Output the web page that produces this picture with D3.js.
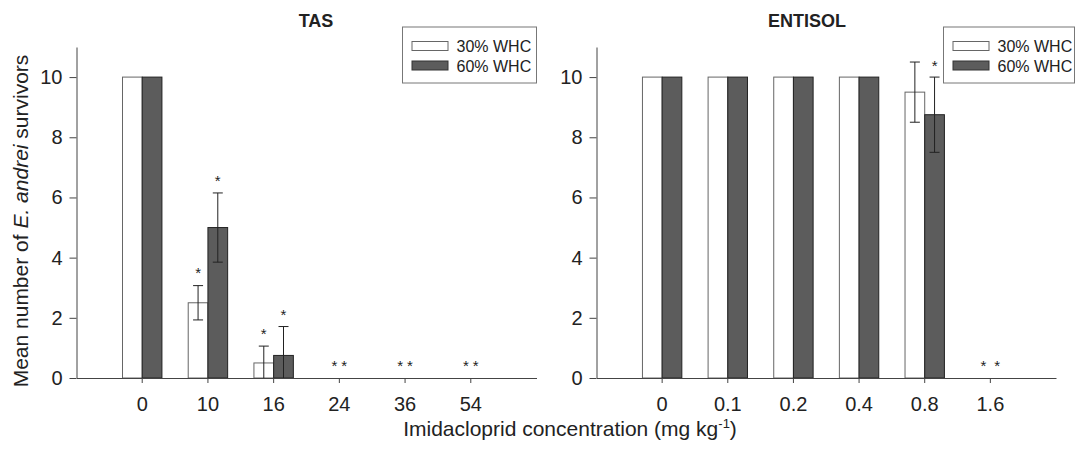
<!DOCTYPE html>
<html>
<head>
<meta charset="utf-8">
<script src="https://cdn.jsdelivr.net/npm/d3@7"></script>
<style>
  body { margin: 0; background: #fff; }
  svg text { font-family: "Liberation Sans", Arial, sans-serif; fill: #222; }
</style>
</head>
<body>
<div id="chart-area"></div>
<script>
// data
let seriesNames = ["30% WHC", "60% WHC"]

let tasCats = ["0", "10", "16", "24", "36", "54"]
let tas30 = [10, 2.5, 0.5, 0, 0, 0]
let tas30Err = [0, 0.57, 0.56, 0, 0, 0]
let tas60 = [10, 5, 0.75, 0, 0, 0]
let tas60Err = [0, 1.15, 0.96, 0, 0, 0]
// asterisks: [category, series index, y value] ; series -1 = pair over an empty group
let tasStars = [["10", 0, 3.62], ["10", 1, 6.68], ["16", 0, 1.6], ["16", 1, 2.22],
                ["24", -1, 0.55], ["36", -1, 0.55], ["54", -1, 0.55]]

let entCats = ["0", "0.1", "0.2", "0.4", "0.8", "1.6"]
let ent30 = [10, 10, 10, 10, 9.5, 0]
let ent30Err = [0, 0, 0, 0, 1.0, 0]
let ent60 = [10, 10, 10, 10, 8.75, 0]
let ent60Err = [0, 0, 0, 0, 1.25, 0]
let entStars = [["0.8", 1, 10.5], ["1.6", -1, 0.55]]

let yTicks = [0, 2, 4, 6, 8, 10]

let width = 1076, height = 454
let svg = d3.select("#chart-area").append("svg")
  .attr("width", width)
  .attr("height", height)

let y = d3.scaleLinear().domain([0, 11]).range([378, 47])

function drawPanel(opts) {
  let g = svg.append("g")

  let x = d3.scaleBand()
    .domain(opts.cats)
    .range([opts.left, opts.right])
    .paddingInner(0)
    .paddingOuter(0.5)
  let step = x.step()
  let barW = step * 0.3

  let x1 = d3.scaleBand()
    .domain([0, 1])
    .range([-barW, barW])

  // title
  g.append("text")
    .attr("x", opts.titleX)
    .attr("y", 27)
    .attr("text-anchor", "middle")
    .attr("font-size", "18px")
    .attr("font-weight", "bold")
    .text(opts.title)

  // bars
  let rows = []
  opts.cats.forEach((c, i) => {
    rows.push({cat: c, s: 0, v: opts.s30[i], e: opts.e30[i]})
    rows.push({cat: c, s: 1, v: opts.s60[i], e: opts.e60[i]})
  })

  g.selectAll("rect.bar")
    .data(rows.filter(d => d.v > 0))
    .enter().append("rect")
      .attr("class", "bar")
      .attr("x", d => x(d.cat) + step / 2 + x1(d.s))
      .attr("y", d => y(d.v))
      .attr("width", x1.bandwidth())
      .attr("height", d => y(0) - y(d.v))
      .attr("fill", d => d.s === 0 ? "#ffffff" : "#5c5c5c")
      .attr("stroke", d => d.s === 0 ? "#666" : "#222")
      .attr("stroke-width", 1)

  // error bars
  let errs = rows.filter(d => d.e > 0)
  let cap = 5
  errs.forEach(d => {
    let cx = x(d.cat) + step / 2 + x1(d.s) + x1.bandwidth() / 2
    let hi = d.v + d.e
    let lo = Math.max(0, d.v - d.e)
    g.append("line")
      .attr("x1", cx).attr("x2", cx)
      .attr("y1", y(hi)).attr("y2", y(lo))
      .attr("stroke", "#222").attr("stroke-width", 1)
    g.append("line")
      .attr("x1", cx - cap).attr("x2", cx + cap)
      .attr("y1", y(hi)).attr("y2", y(hi))
      .attr("stroke", "#222").attr("stroke-width", 1)
    if (d.v - d.e > 0) {
      g.append("line")
        .attr("x1", cx - cap).attr("x2", cx + cap)
        .attr("y1", y(lo)).attr("y2", y(lo))
        .attr("stroke", "#222").attr("stroke-width", 1)
    }
  })

  // significance asterisks
  g.selectAll("text.star")
    .data(opts.stars)
    .enter().append("text")
      .attr("class", "star")
      .attr("x", d => d[1] < 0 ? x(d[0]) + step / 2 + opts.pairGap / 2 : x(d[0]) + step / 2 + x1(d[1]) + x1.bandwidth() / 2)
      .attr("y", d => y(d[2]))
      .attr("dy", "0.62em")
      .attr("text-anchor", "middle")
      .attr("font-size", "15px")
      .attr("letter-spacing", d => d[1] < 0 ? opts.pairGap : 0)
      .text(d => d[1] < 0 ? "**" : "*")

  // axes
  let xAxis = g.append("g")
    .attr("transform", "translate(0," + y(0) + ")")
    .call(d3.axisBottom(x).tickSizeInner(5).tickSizeOuter(0).tickPadding(14))
  xAxis.selectAll("text").attr("font-size", "20px")
  xAxis.selectAll("path, line").attr("stroke", "#444")

  let yAxis = g.append("g")
    .attr("transform", "translate(" + opts.left + ",0)")
    .call(d3.axisLeft(y).tickValues(yTicks).tickSizeInner(7).tickSizeOuter(0).tickPadding(7))
  yAxis.selectAll("text").attr("font-size", "20px")
  yAxis.selectAll("path, line").attr("stroke", "#444")
  svg.selectAll(".tick text").attr("font-family", null)

  // legend
  let lg = g.append("g").attr("transform", "translate(" + opts.legendX + ",27)")
  lg.append("rect")
    .attr("width", opts.legendW).attr("height", 56)
    .attr("fill", "#fff").attr("stroke", "#777")
  seriesNames.forEach((name, i) => {
    lg.append("rect")
      .attr("x", 9.5).attr("y", 14.5 + i * 19.5)
      .attr("width", 36).attr("height", 9)
      .attr("fill", i === 0 ? "#fff" : "#5c5c5c")
      .attr("stroke", i === 0 ? "#666" : "#333")
    lg.append("text")
      .attr("x", 54).attr("y", 25 + i * 19.5)
      .attr("font-size", "16px")
      .text(name)
  })
}

drawPanel({
  title: "TAS", titleX: 316,
  cats: tasCats, s30: tas30, e30: tas30Err, s60: tas60, e60: tas60Err,
  stars: tasStars, pairGap: 4,
  left: 76.5, right: 536.5,
  legendX: 402.5, legendW: 134
})

drawPanel({
  title: "ENTISOL", titleX: 807,
  cats: entCats, s30: ent30, e30: ent30Err, s60: ent60, e60: ent60Err,
  stars: entStars, pairGap: 8,
  left: 596.5, right: 1056,
  legendX: 943.5, legendW: 131
})

// Y label
let yl = svg.append("text")
  .attr("transform", "translate(28,221) rotate(-90)")
  .attr("text-anchor", "middle")
  .attr("font-size", "21px")
yl.append("tspan").text("Mean number of ")
yl.append("tspan").attr("font-style", "italic").text("E. andrei")
yl.append("tspan").text(" survivors")

// X label
let xl = svg.append("text")
  .attr("x", 570)
  .attr("y", 436)
  .attr("text-anchor", "middle")
  .attr("font-size", "21px")
xl.append("tspan").text("Imidacloprid concentration (mg kg")
xl.append("tspan").attr("font-size", "13px").attr("dy", "-8").text("-1")
xl.append("tspan").attr("dy", "8").text(")")
</script>
</body>
</html>
